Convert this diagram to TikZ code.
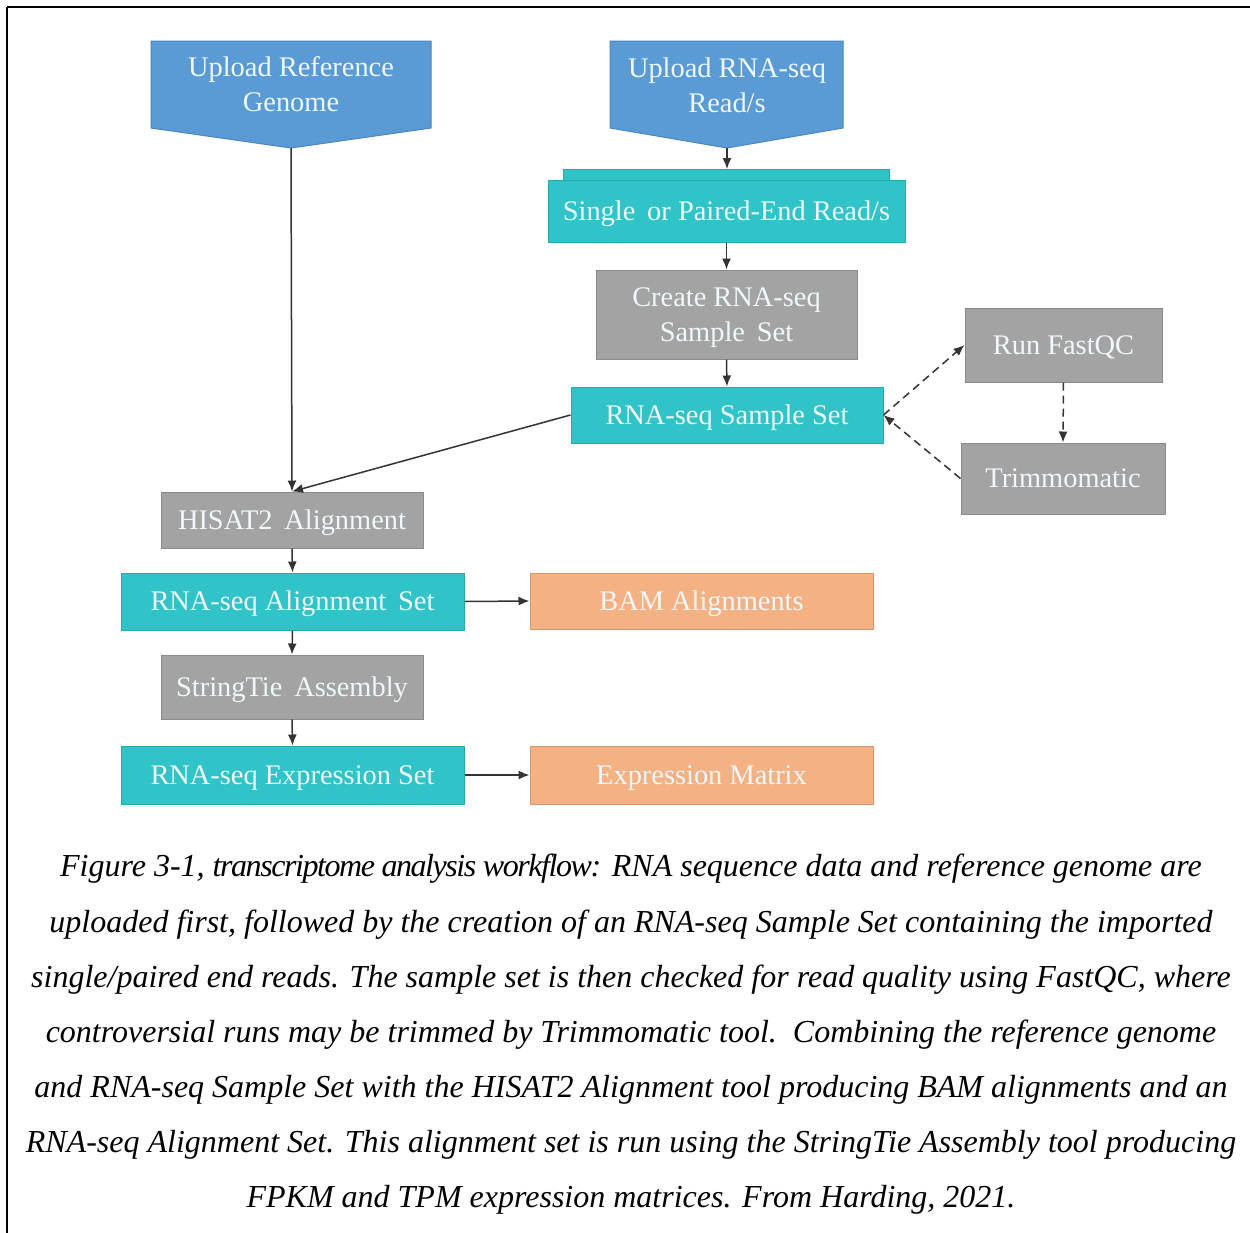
\documentclass[tikz,border=0pt]{standalone}
\usepackage{fontspec}
\setmainfont{Liberation Serif}
\usetikzlibrary{arrows.meta}
\definecolor{blueb}{HTML}{5B9BD5}
\definecolor{blueline}{HTML}{4A86C0}
\definecolor{turq}{HTML}{30C4C8}
\definecolor{turqline}{HTML}{24A9AD}
\definecolor{grayb}{HTML}{A3A3A3}
\definecolor{grayline}{HTML}{8A8A8A}
\definecolor{orangeb}{HTML}{F4B183}
\definecolor{orangeline}{HTML}{D8956A}
\definecolor{txt}{HTML}{EEF8FA}
\definecolor{conn}{HTML}{333333}
\newcommand{\bxs}{\rule[-4pt]{0pt}{17pt}}
\tikzset{
  boxbase/.style={rectangle, inner sep=0pt, align=center, text=txt,
    font=\fontsize{14.2}{17.5}\selectfont, line width=0.5pt},
  graybox/.style={boxbase, fill=grayb, draw=grayline},
  turqbox/.style={boxbase, fill=turq, draw=turqline},
  orangebox/.style={boxbase, fill=orangeb, draw=orangeline},
  arr/.style={draw=conn, line width=0.75pt, -{Latex[length=5.5pt,width=4.5pt]}},
  darr/.style={arr, dash pattern=on 4pt off 2.5pt},
  capline/.style={inner sep=0pt, font=\fontsize{16}{27.5}\selectfont\itshape, text=black}
}
\begin{document}
\begin{tikzpicture}[x=0.5pt,y=-0.5pt]
\useasboundingbox (0,0) rectangle (1250,1233);
\fill[white] (0,0) rectangle (1250,1233);
% frame
\draw[line width=0.55pt] (7,7) -- (1250,7);
\draw[line width=1.3pt] (7,7) -- (54,7);
\draw[line width=1.3pt] (1208,7) -- (1250,7);
\draw[line width=0.9pt] (7,7) -- (7,1233);

% upload shapes
\draw[fill=blueb, draw=blueline, line width=0.5pt]
  (151,41) -- (431,41) -- (431,128) -- (291,148) -- (151,128) -- cycle;
\coordinate (urgtip) at (291,148);
\node[boxbase] (urg) at (291,84.5) {Upload Reference\\Genome};
\draw[fill=blueb, draw=blueline, line width=0.5pt]
  (610,41) -- (843,41) -- (843,128) -- (727,148) -- (610,128) -- cycle;
\coordinate (urntip) at (727,148);
\node[boxbase] (urn) at (727,85) {Upload RNA-seq\\Read/s};

% multi-document shape
\draw[fill=turq, draw=turqline, line width=0.5pt] (563,169) rectangle (889,181);
\coordinate (singletop) at (727,169);
\node[turqbox, minimum width=178.5pt, minimum height=31pt] (single) at (726.5,211) {\bxs Single\, or Paired-End Read/s};

\node[graybox, minimum width=130.5pt, minimum height=44.5pt] (create) at (726.5,314.5) {\bxs Create RNA-seq\\\bxs Sample\, Set};
\node[turqbox, minimum width=156pt, minimum height=28pt] (sset) at (727,415) {\bxs RNA-seq Sample Set};
\node[graybox, minimum width=98.5pt, minimum height=37pt] (fastqc) at (1063.5,345) {\bxs Run FastQC};
\node[graybox, minimum width=102pt, minimum height=35.5pt] (trim) at (1063,478.5) {\bxs Trimmomatic};
\node[graybox, minimum width=131pt, minimum height=28pt] (hisat) at (292,520) {\bxs HISAT2\, Alignment};
\node[turqbox, minimum width=171.5pt, minimum height=28.5pt] (aset) at (292.5,601.5) {\bxs RNA-seq Alignment\, Set};
\node[orangebox, minimum width=171.5pt, minimum height=28pt] (bam) at (701.5,601) {\bxs BAM Alignments};
\node[graybox, minimum width=131pt, minimum height=32pt] (stie) at (292,687) {\bxs StringTie\, Assembly};
\node[turqbox, minimum width=171.5pt, minimum height=29pt] (eset) at (292.5,775) {\bxs RNA-seq Expression Set};
\node[orangebox, minimum width=171.5pt, minimum height=29pt] (emat) at (701.5,775) {\bxs Expression Matrix};

% connectors
\draw[arr] (urgtip) -- (hisat.north);
\draw[arr] (urntip) -- (singletop);
\draw[arr] (single.south) -- (create.north);
\draw[arr] (create.south) -- (sset.north);
\draw[arr] (sset.west) -- (hisat.north);
\draw[darr] (sset.east) -- (fastqc.west);
\draw[darr] (fastqc.south) -- (trim.north);
\draw[darr] (trim.west) -- (sset.east);
\draw[arr] (hisat.south) -- (aset.north);
\draw[arr] (aset.east) -- (bam.west);
\draw[arr] (aset.south) -- (stie.north);
\draw[arr] (stie.south) -- (eset.north);
\draw[arr] (eset.east) -- (emat.west);

% caption
\node[capline] (cap1) at (631,869) {Figure 3-1, {\addfontfeature{LetterSpace=-4.5}transcriptome analysis workflow:} RNA sequence data and reference genome are};
\node[capline] (cap2) at (631,925) {uploaded first, followed by the creation of an RNA-seq Sample Set containing the imported};
\node[capline] (cap3) at (631,980) {single/paired end reads. The sample set is then checked for read quality using FastQC, where};
\node[capline] (cap4) at (631,1035) {controversial runs may be trimmed by Trimmomatic tool.\ \ Combining the reference genome};
\node[capline] (cap5) at (631,1090) {and RNA-seq Sample Set with the HISAT2 Alignment tool producing BAM alignments and an};
\node[capline] (cap6) at (631,1145) {RNA-seq Alignment Set. This alignment set is run using the StringTie Assembly tool producing};
\node[capline] (cap7) at (631,1200) {FPKM and TPM expression matrices. From Harding, 2021.};
\end{tikzpicture}
\end{document}
